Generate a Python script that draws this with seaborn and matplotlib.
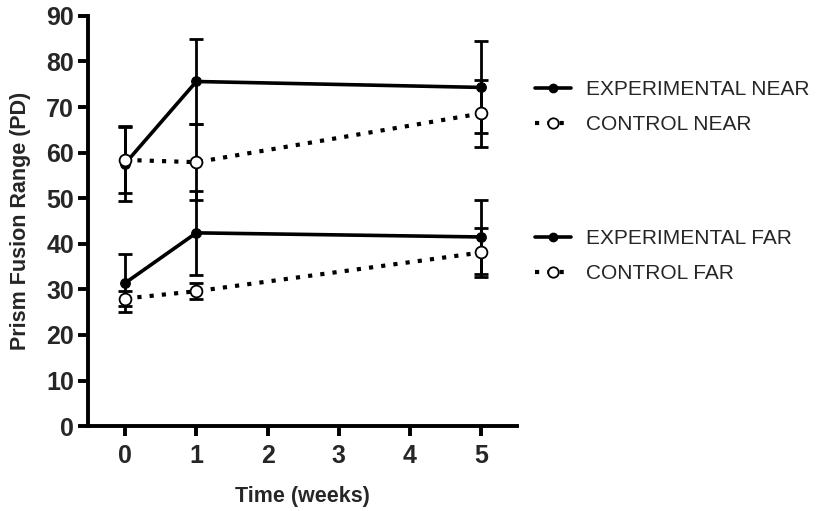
import matplotlib
matplotlib.use("Agg")
import matplotlib.pyplot as plt
import seaborn as sns
import pandas as pd
from matplotlib.lines import Line2D

weeks = [0, 1, 5]
exp_near = [57.6, 75.6, 74.3]
exp_near_err = [8.2, 9.3, 10.1]
ctrl_near = [58.4, 57.9, 68.6]
ctrl_near_err = [7.2, 8.4, 7.3]
exp_far = [31.4, 42.4, 41.5]
exp_far_err = [6.4, 9.2, 8.2]
ctrl_far = [28.0, 29.6, 38.1]
ctrl_far_err = [1.6, 1.8, 5.4]

series_names = ["EXPERIMENTAL NEAR", "CONTROL NEAR", "EXPERIMENTAL FAR", "CONTROL FAR"]
series_vals = [exp_near, ctrl_near, exp_far, ctrl_far]
series_errs = [exp_near_err, ctrl_near_err, exp_far_err, ctrl_far_err]
solid = [True, False, True, False]

sns.set_theme(style="ticks")
plt.rcParams['font.family'] = ['Liberation Sans', 'DejaVu Sans']

rows = []
for name, vals in zip(series_names, series_vals):
    for w, v in zip(weeks, vals):
        rows.append({"week": w, "value": v, "series": name})
df = pd.DataFrame(rows)

fig = plt.figure(figsize=(8.39, 5.11), dpi=100)
ax = fig.add_axes([0.105, 0.166, 0.511, 0.803])

DOT = (0, (1.0, 1.95))

for name, vals, errs, sol in zip(series_names, series_vals, series_errs, solid):
    sub = df[df["series"] == name]
    ax.errorbar(sub["week"], sub["value"], yerr=errs, fmt="none", ecolor="black",
                elinewidth=2.0, capsize=5, capthick=2.0, zorder=2)
    if sol:
        sns.lineplot(data=sub, x="week", y="value", ax=ax, color="black", lw=2.6,
                     marker="o", markersize=7, markerfacecolor="black",
                     markeredgecolor="black", legend=False, zorder=3)
    else:
        sns.lineplot(data=sub, x="week", y="value", ax=ax, color="black", lw=3.0,
                     marker="o", markersize=8.5, markerfacecolor="white",
                     markeredgecolor="black", markeredgewidth=1.3,
                     legend=False, zorder=3)
        l = ax.lines[-1]
        l.set_linestyle(DOT)
        l.set_dash_capstyle("butt")

ax.set_xlim(-0.52, 5.5)
ax.set_ylim(0, 90)
ax.set_xticks([0, 1, 2, 3, 4, 5])
ax.set_yticks(range(0, 91, 10))
for s in ["top", "right"]:
    ax.spines[s].set_visible(False)
for s in ["left", "bottom"]:
    ax.spines[s].set_linewidth(2.8)
    ax.spines[s].set_color("black")
ax.tick_params(axis="both", width=2.8, length=7, color="black", labelsize=18, pad=3)
ax.tick_params(axis="x", pad=6)
for lab in ax.get_xticklabels() + ax.get_yticklabels():
    lab.set_fontweight("bold")
ax.set_xlabel("Time (weeks)", fontsize=15.5, fontweight="bold", labelpad=13)
ax.set_ylabel("Prism Fusion Range (PD)", fontsize=15.5, fontweight="bold", labelpad=11)

def handle(sol):
    if sol:
        return Line2D([], [], color="black", lw=2.6, marker="o", markersize=6,
                      markerfacecolor="black", markeredgecolor="black")
    h = Line2D([], [], color="black", lw=3.0, ls=DOT, marker="o", markersize=7.5,
               markerfacecolor="white", markeredgecolor="black", markeredgewidth=1.3)
    return h

kw = dict(loc="upper left", frameon=False, fontsize=15, handlelength=1.7,
          handletextpad=0.75, labelspacing=0.78, borderpad=0, borderaxespad=0)
leg1 = fig.legend([handle(True), handle(False)], series_names[:2],
                  bbox_to_anchor=(0.638, 0.843), **kw)
leg2 = fig.legend([handle(True), handle(False)], series_names[2:],
                  bbox_to_anchor=(0.638, 0.622 - 0.0705 + 0.0), **kw)

fig.savefig("out.png", dpi=100)
